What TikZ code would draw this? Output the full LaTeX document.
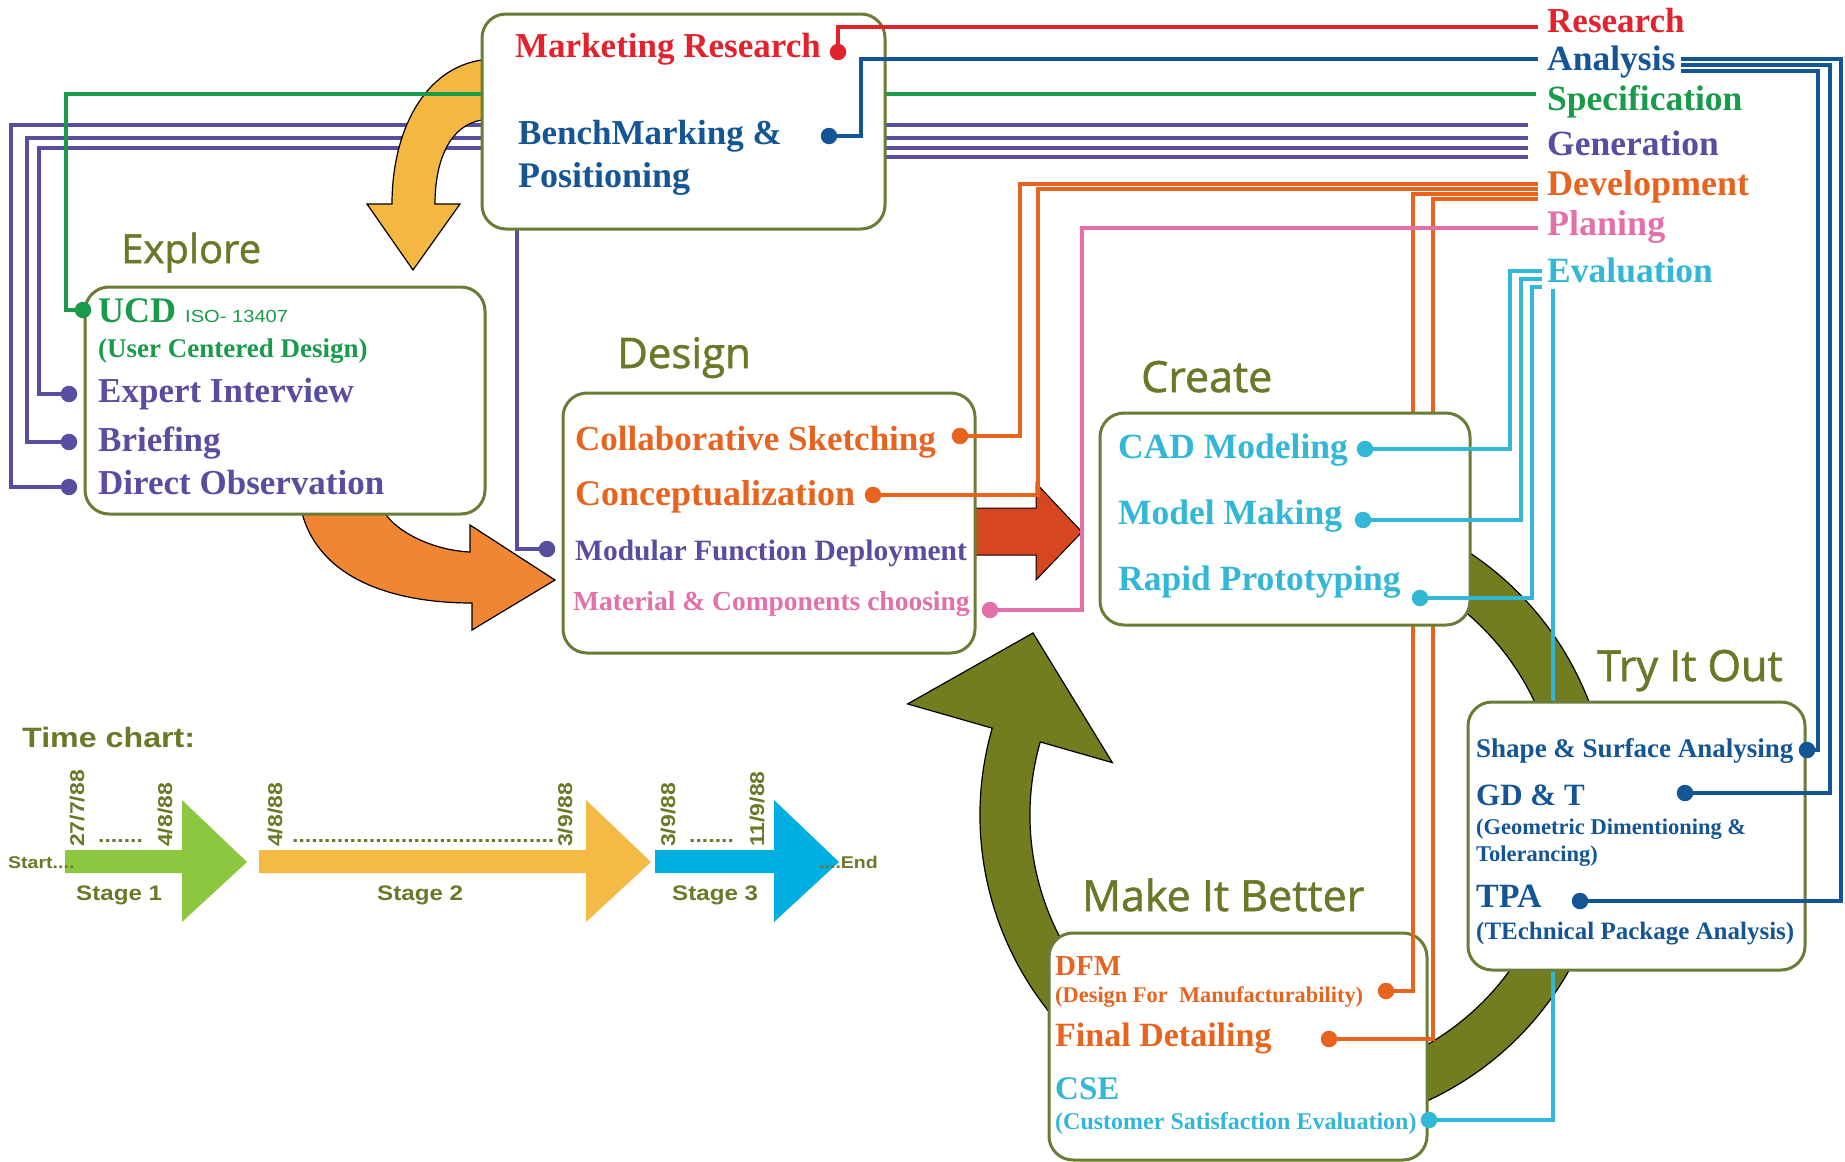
\documentclass[tikz,border=0pt]{standalone}
\usepackage{fontspec}
\setmainfont{Liberation Serif}
\newfontfamily\headfont[FakeBold=1.3]{Open Sans}
\newfontfamily\tcfont[FakeStretch=1.15]{Liberation Sans}
\usetikzlibrary{calc}
\definecolor{cred}{RGB}{226,35,45}
\definecolor{cblue}{RGB}{20,85,150}
\definecolor{cgreen}{RGB}{25,155,75}
\definecolor{cpur}{RGB}{88,78,160}
\definecolor{corg}{RGB}{232,100,30}
\definecolor{cpink}{RGB}{228,112,170}
\definecolor{ccyan}{RGB}{50,183,215}
\definecolor{colv}{RGB}{108,120,40}
\definecolor{cbox}{RGB}{105,125,55}
\definecolor{cyel}{RGB}{244,183,66}
\definecolor{carr}{RGB}{240,133,52}
\definecolor{credarr}{RGB}{214,70,32}
\definecolor{cring}{RGB}{115,125,32}
\definecolor{cstA}{RGB}{141,198,63}
\definecolor{cstB}{RGB}{245,185,70}
\definecolor{cstC}{RGB}{0,175,225}
\newcommand\myfs[1]{\fontsize{#1}{#1}\selectfont}
\begin{document}
\begin{tikzpicture}[x=1pt,y=-1pt,
  ln/.style={line width=3.2pt},
  box/.style={draw=cbox, line width=3pt, rounded corners=24pt, fill=white, inner sep=0pt},
  dotn/.style={circle, inner sep=0pt, minimum size=16.5pt},
  itm/.style={anchor=base west, inner sep=0pt},
  hd/.style={anchor=base west, inner sep=0pt, text=colv},
  arr/.style={draw=black, line width=1.2pt, line join=miter},
  dt/.style={rotate=90, anchor=west, inner sep=0pt, text=colv, font=\tcfont\bfseries\myfs{20}},
  tc/.style={anchor=base west, inner sep=0pt, text=colv},
]
\useasboundingbox (0,0) rectangle (1845,1162);
\fill[white] (0,0) rectangle (1845,1162);

% ---------- dot positions ----------
\coordinate (pR) at (838,52);
\coordinate (pB) at (829,136);
\coordinate (pUCD) at (83,310);
\coordinate (pEI) at (69,394);
\coordinate (pBr) at (69,442);
\coordinate (pDO) at (69,487);
\coordinate (pMFD) at (547,549);
\coordinate (pCS) at (960,436);
\coordinate (pCo) at (873,495);
\coordinate (pMat) at (990,610);
\coordinate (pCAD) at (1365,449);
\coordinate (pMM) at (1363,520);
\coordinate (pRP) at (1420,598);
\coordinate (pSS) at (1807,750);
\coordinate (pGD) at (1685,793);
\coordinate (pTPA) at (1580,901);
\coordinate (pDFM) at (1386,991);
\coordinate (pFD) at (1329,1039);
\coordinate (pCSE) at (1429,1120);
% ---------- line ends ----------
\coordinate (eR) at (1538,27);
\coordinate (eB) at (1538,59);
\coordinate (eG) at (1536,94);
\coordinate (eP1) at (1528,125);
\coordinate (eP2) at (1528,138);
\coordinate (eP3) at (1528,148);
\coordinate (eP4) at (1528,157);
\coordinate (eO1) at (1538,184);
\coordinate (eO2) at (1538,189);
\coordinate (eO3) at (1538,194);
\coordinate (eO4) at (1538,199);
\coordinate (ePk) at (1538,228);
\coordinate (eCa) at (1542,271);
\coordinate (eCb) at (1542,279);
\coordinate (eCc) at (1542,287);
\coordinate (eCd) at (1553,289);
\coordinate (eA1) at (1681,59);
\coordinate (eA2) at (1681,65);
\coordinate (eA3) at (1681,71);

% ---------- purple lines (under arrows) ----------
\draw[ln,cpur] (pDO) -| (11,125) -- (eP1);
\draw[ln,cpur] (pBr) -| (27,138) -- (eP2);
\draw[ln,cpur] (pEI) -| (39,148) -- (eP3);
\draw[ln,cpur] (pMFD) -| (517,157) -- (eP4);

% ---------- big arrows ----------
\filldraw[arr, fill=cyel] (492,60) -- (482,60) .. controls (425,68) and (392,130) .. (392,204)
  -- (367,204) -- (413,270) -- (460,204) -- (435,204)
  .. controls (435,160) and (450,125) .. (482,120) -- (492,120) -- cycle;
\filldraw[arr, fill=carr] (300,505) -- (302,513) .. controls (320,580) and (395,603) .. (472,603)
  -- (472,630) -- (555,580) -- (470,525) -- (470,552)
  .. controls (430,550) and (395,530) .. (385,513) -- (383,505) -- cycle;
\filldraw[arr, line width=1pt, fill=credarr] (968,508) -- (1036,508) -- (1036,483) -- (1082,532)
  -- (1036,580) -- (1036,555) -- (968,555) -- cycle;
\coordinate (rc) at (1295,815);
\filldraw[arr, fill=cring] ($(rc)+(-65:315)$) arc[start angle=-65, end angle=196, radius=315]
  -- ($(rc)+(196:403)$) -- (1033,633) -- ($(rc)+(196:190)$) -- ($(rc)+(196:265)$)
  arc[start angle=196, end angle=-65, radius=265] -- cycle;

% ---------- boxes (first group) ----------
\node[box, minimum width=378pt, minimum height=227pt] (mak) at (1238,1046.5) {};
\node[box, minimum width=400pt, minimum height=227pt] (exp) at (285,400.5) {};
\node[box, minimum width=412pt, minimum height=260pt] (des) at (769,523) {};

% ---------- lines passing behind the later boxes ----------
\draw[ln,cgreen] (pUCD) -| (66,94) -- (eG);
\draw[ln,corg] (pCS) -| (1020,184) -- (eO1);
\draw[ln,corg] (pCo) -| (1038,189) -- (eO2);
\draw[ln,corg] (pDFM) -| (1413,194) -- (eO3);
\draw[ln,corg] (pFD) -| (1433,199) -- (eO4);
\draw[ln,cpink] (pMat) -| (1082,228) -- (ePk);
\draw[ln,ccyan] (pCSE) -| (eCd);

% ---------- boxes (second group) ----------
\node[box, minimum width=403pt, minimum height=215pt] (mkt) at (683.5,121.5) {};
\node[box, minimum width=370pt, minimum height=212pt] (cre) at (1285,519) {};
\node[box, minimum width=337pt, minimum height=268pt] (try) at (1636.5,836) {};

% ---------- lines starting inside these boxes ----------
\draw[ln,cred] (pR) |- (eR);
\draw[ln,cblue] (pB) -- (861,136) |- (eB);
\draw[ln,ccyan] (pCAD) -| (1510,271) -- (eCa);
\draw[ln,ccyan] (pMM) -| (1521,279) -- (eCb);
\draw[ln,ccyan] (pRP) -| (1532,287) -- (eCc);
\draw[ln,cblue] (pTPA) -| (1841,59) -- (eA1);
\draw[ln,cblue] (pGD) -| (1830,65) -- (eA2);
\draw[ln,cblue] (pSS) -| (1818,71) -- (eA3);

% ---------- dots ----------
\node[dotn, fill=cred] (dR) at (pR) {};
\node[dotn, fill=cblue] (dB) at (pB) {};
\node[dotn, fill=cgreen] (dUCD) at (pUCD) {};
\node[dotn, fill=cpur] (dEI) at (pEI) {};
\node[dotn, fill=cpur] (dBr) at (pBr) {};
\node[dotn, fill=cpur] (dDO) at (pDO) {};
\node[dotn, fill=cpur] (dMFD) at (pMFD) {};
\node[dotn, fill=corg] (dCS) at (pCS) {};
\node[dotn, fill=corg] (dCo) at (pCo) {};
\node[dotn, fill=cpink] (dMat) at (pMat) {};
\node[dotn, fill=ccyan] (dCAD) at (pCAD) {};
\node[dotn, fill=ccyan] (dMM) at (pMM) {};
\node[dotn, fill=ccyan] (dRP) at (pRP) {};
\node[dotn, fill=cblue] (dSS) at (pSS) {};
\node[dotn, fill=cblue] (dGD) at (pGD) {};
\node[dotn, fill=cblue] (dTPA) at (pTPA) {};
\node[dotn, fill=corg] (dDFM) at (pDFM) {};
\node[dotn, fill=corg] (dFD) at (pFD) {};
\node[dotn, fill=ccyan] (dCSE) at (pCSE) {};

% ---------- right-hand labels ----------
\node[itm, text=cred, font=\bfseries\myfs{35}] (lRes) at (1547,32) {Research};
\node[itm, text=cblue, font=\bfseries\myfs{35.5}] (lAna) at (1547,70) {Analysis};
\node[itm, text=cgreen, font=\bfseries\myfs{35.5}] (lSpe) at (1547,110) {Specification};
\node[itm, text=cpur, font=\bfseries\myfs{35.5}] (lGen) at (1547,155) {Generation};
\node[itm, text=corg, font=\bfseries\myfs{36}] (lDev) at (1547,195) {Development};
\node[itm, text=cpink, font=\bfseries\myfs{36}] (lPla) at (1547,235) {Planing};
\node[itm, text=ccyan, font=\bfseries\myfs{35.5}] (lEva) at (1547,282) {Evaluation};

% ---------- headings ----------
\node[hd, font=\headfont\myfs{40}] (hExp) at (121,263) {Explore};
\node[hd, font=\headfont\myfs{42}] (hDes) at (617,368) {Design};
\node[hd, font=\headfont\myfs{43}] (hCre) at (1141,392) {Create};
\node[hd, font=\headfont\myfs{43}] (hTry) at (1597,681) {Try It Out};
\node[hd, font=\headfont\myfs{43}] (hMak) at (1082,911) {Make It Better};

% ---------- marketing box ----------
\node[itm, text=cred, font=\bfseries\myfs{35}] (tMR) at (515,57) {Marketing Research};
\node[itm, text=cblue, font=\bfseries\myfs{35}] (tBM) at (518,144) {BenchMarking \&};
\node[itm, text=cblue, font=\bfseries\myfs{36}] (tPo) at (518,187) {Positioning};

% ---------- explore box ----------
\node[itm, text=cgreen, font=\bfseries\myfs{36}] (tUCD) at (98,322) {UCD};
\node[itm, text=cgreen, font=\tcfont\myfs{17.5}] (tISO) at (185,322) {ISO- 13407};
\node[itm, text=cgreen, font=\bfseries\myfs{27}] (tUCDs) at (98,357) {(User Centered Design)};
\node[itm, text=cpur, font=\bfseries\myfs{35}] (tEI) at (98,402) {Expert Interview};
\node[itm, text=cpur, font=\bfseries\myfs{35}] (tBr) at (98,451) {Briefing};
\node[itm, text=cpur, font=\bfseries\myfs{35}] (tDO) at (98,494) {Direct Observation};

% ---------- design box ----------
\node[itm, text=corg, font=\bfseries\myfs{35}] (tCS) at (575,450) {Collaborative Sketching};
\node[itm, text=corg, font=\bfseries\myfs{36}] (tCo) at (575,505) {Conceptualization};
\node[itm, text=cpur, font=\bfseries\myfs{29.5}] (tMFD) at (575,560) {Modular Function Deployment};
\node[itm, text=cpink, font=\bfseries\myfs{27.5}] (tMat) at (573,610) {Material \& Components choosing};

% ---------- create box ----------
\node[itm, text=ccyan, font=\bfseries\myfs{35.5}] (tCAD) at (1118,458) {CAD Modeling};
\node[itm, text=ccyan, font=\bfseries\myfs{35.5}] (tMM) at (1118,524) {Model Making};
\node[itm, text=ccyan, font=\bfseries\myfs{35.5}] (tRP) at (1118,590) {Rapid Prototyping};

% ---------- try it out box ----------
\node[itm, text=cblue, font=\bfseries\myfs{27}] (tSS) at (1476,757) {Shape \& Surface Analysing};
\node[itm, text=cblue, font=\bfseries\myfs{31}] (tGD) at (1476,805) {GD \& T};
\node[itm, text=cblue, font=\bfseries\myfs{22.5}] (tGDa) at (1476,834) {(Geometric Dimentioning \&};
\node[itm, text=cblue, font=\bfseries\myfs{22.5}] (tGDb) at (1476,861) {Tolerancing)};
\node[itm, text=cblue, font=\bfseries\myfs{34}] (tTPA) at (1476,907) {TPA};
\node[itm, text=cblue, font=\bfseries\myfs{25}] (tTPAs) at (1476,939) {(TEchnical Package Analysis)};

% ---------- make it better box ----------
\node[itm, text=corg, font=\bfseries\myfs{29}] (tDFM) at (1055,975) {DFM};
\node[itm, text=corg, font=\bfseries\myfs{22.4}] (tDFMs) at (1055,1002) {(Design For\ \ Manufacturability)};
\node[itm, text=corg, font=\bfseries\myfs{34}] (tFD) at (1055,1046) {Final Detailing};
\node[itm, text=ccyan, font=\bfseries\myfs{33}] (tCSE) at (1055,1099) {CSE};
\node[itm, text=ccyan, font=\bfseries\myfs{24}] (tCSEs) at (1055,1129) {(Customer Satisfaction Evaluation)};

% ---------- time chart ----------
\node[tc, font=\tcfont\bfseries\myfs{28}] (tTC) at (22,747) {Time chart:};
\fill[cstA] (65,850) -- (182,850) -- (182,800) -- (247,862) -- (182,922) -- (182,873) -- (65,873) -- cycle;
\fill[cstB] (259,850) -- (586,850) -- (586,800) -- (651,862) -- (586,922) -- (586,873) -- (259,873) -- cycle;
\fill[cstC] (655,850) -- (774,850) -- (774,800) -- (839,862) -- (774,922) -- (774,873) -- (655,873) -- cycle;
\node[tc, font=\tcfont\bfseries\myfs{17}] (tSt) at (8,868) {Start....};
\node[tc, font=\tcfont\bfseries\myfs{17}] (tEn) at (819,868) {....End};
\node[tc, font=\tcfont\bfseries\myfs{21}] (tS1) at (76,900) {Stage 1};
\node[tc, font=\tcfont\bfseries\myfs{21}] (tS2) at (377,900) {Stage 2};
\node[tc, font=\tcfont\bfseries\myfs{21}] (tS3) at (672,900) {Stage 3};
\node[dt] (d1) at (77,847) {27/7/88};
\node[dt] (d2) at (165,847) {4/8/88};
\node[dt] (d3) at (275,847) {4/8/88};
\node[dt] (d4) at (565,847) {3/9/88};
\node[dt] (d5) at (668,847) {3/9/88};
\node[dt] (d6) at (757,847) {11/9/88};
\node[tc, font=\tcfont\bfseries\myfs{20}] (dots1) at (98,842) {.......};
\node[tc, font=\tcfont\bfseries\myfs{20}] (dots2) at (292,842) {.........................................};
\node[tc, font=\tcfont\bfseries\myfs{20}] (dots3) at (689,842) {.......};
\end{tikzpicture}
\end{document}
